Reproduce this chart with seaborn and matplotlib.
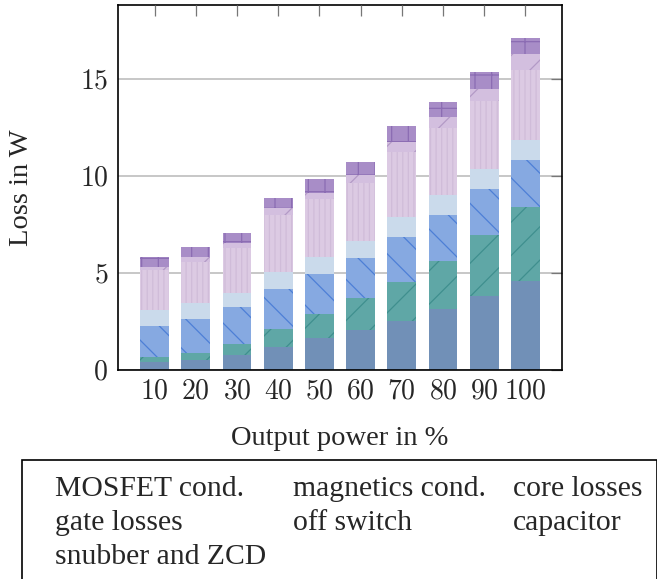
import numpy as np
import matplotlib
matplotlib.use("Agg")
import matplotlib.pyplot as plt
from matplotlib.patches import Patch
import seaborn as sns

# ======================================
# Data
# ======================================

power = ["10", "20", "30", "40", "50", "60", "70", "80", "90", "100"]

mosfet_cond = [0.39, 0.49, 0.74, 1.18, 1.61, 2.04, 2.52, 3.11, 3.81, 4.58]
magnetics_cond = [0.23, 0.36, 0.59, 0.89, 1.23, 1.63, 2.01, 2.51, 3.12, 3.81]
core_losses = [1.62, 1.77, 1.87, 2.06, 2.08, 2.06, 2.32, 2.33, 2.36, 2.41]
gate_losses = [0.81, 0.80, 0.76, 0.91, 0.90, 0.91, 1.03, 1.05, 1.03, 1.03]
off_switch = [2.10, 2.10, 2.32, 2.92, 2.95, 2.99, 3.35, 3.43, 3.54, 3.64]
capacitor = [0.14, 0.29, 0.22, 0.35, 0.31, 0.40, 0.51, 0.57, 0.60, 0.79]
snubber_zcd = [0.52, 0.49, 0.55, 0.51, 0.74, 0.68, 0.81, 0.81, 0.86, 0.86]

series = [mosfet_cond, magnetics_cond, core_losses, gate_losses,
          off_switch, capacitor, snubber_zcd]

labels = ["MOSFET cond.", "magnetics cond.", "core losses", "gate losses",
          "off switch", "capacitor", "snubber and ZCD"]

y_ticks = [0, 5, 10, 15]

# ======================================
# Styles
# ======================================

colors = ["#7190b7", "#5fa7a6", "#86a9e1", "#cadaeb",
          "#dccae3", "#d3bfdf", "#a88dc7"]
hatches = [None, "/", "\\", None, "|||", "/", "+"]
hatch_colors = ["#7190b7", "#3f8f8e", "#4d7fd6", "#cadaeb",
                "#d0bcd9", "#b39ac6", "#8b6cb3"]

sns.set_style("white")
plt.rcParams["font.family"] = ["Liberation Serif", "DejaVu Serif"]
plt.rcParams["mathtext.fontset"] = "cm"
plt.rcParams["hatch.linewidth"] = 0.9

# ======================================
# Stacked bars
# ======================================

fig = plt.figure(figsize=(6.57, 5.79), dpi=100)
ax = fig.add_axes([0.1796, 0.3618, 0.6758, 0.6296])

bottom = np.zeros(len(power))

for values, color, hatch, hcolor in zip(series, colors, hatches, hatch_colors):
    sns.barplot(
        x=power,
        y=values,
        bottom=bottom,
        color=color,
        saturation=1,
        width=0.7,
        hatch=hatch,
        edgecolor=hcolor,
        linewidth=0,
        ax=ax
    )
    bottom = bottom + np.array(values)

# ======================================
# Axes
# ======================================

ax.set_xlim(-0.89, 9.89)
ax.set_ylim(0, 18.8)

ax.set_yticks(y_ticks)
ax.set_yticklabels([f"${v}$" for v in y_ticks])
ax.set_xticks(range(len(power)))
ax.set_xticklabels([f"${p}$" for p in power])

ax.tick_params(direction="in", length=8, width=0.9, top=True, right=True,
               labelsize=20, pad=7, color="#777777")

ax.yaxis.grid(True, color="#b8b8b8", linewidth=1.1)
ax.set_axisbelow(True)
ax.xaxis.set_zorder(3)

for spine in ax.spines.values():
    spine.set_color("black")
    spine.set_linewidth(1.2)

ax.set_xlabel("Output power in %", fontsize=20.5)
ax.set_ylabel("Loss in W", fontsize=20.5)
ax.xaxis.set_label_coords(0.5, -0.155)
ax.yaxis.set_label_coords(-0.19, 0.5)

# ======================================
# Legend (text only, row-major like the original)
# ======================================

order = [0, 3, 6, 1, 4, 2, 5]
handles = [Patch(facecolor="none", edgecolor="none") for _ in order]

leg = fig.legend(
    handles,
    [labels[i] for i in order],
    loc="upper left",
    bbox_to_anchor=(22 / 657, 1 - 460 / 579),
    ncol=3,
    frameon=True,
    fancybox=False,
    edgecolor="black",
    framealpha=1,
    fontsize=21.3,
    handlelength=0.35,
    handletextpad=0.27,
    columnspacing=0.28,
    labelspacing=0.25,
    borderpad=0.5,
    borderaxespad=0
)
leg.get_frame().set_linewidth(1.2)

fig.savefig("out.png", dpi=100)
